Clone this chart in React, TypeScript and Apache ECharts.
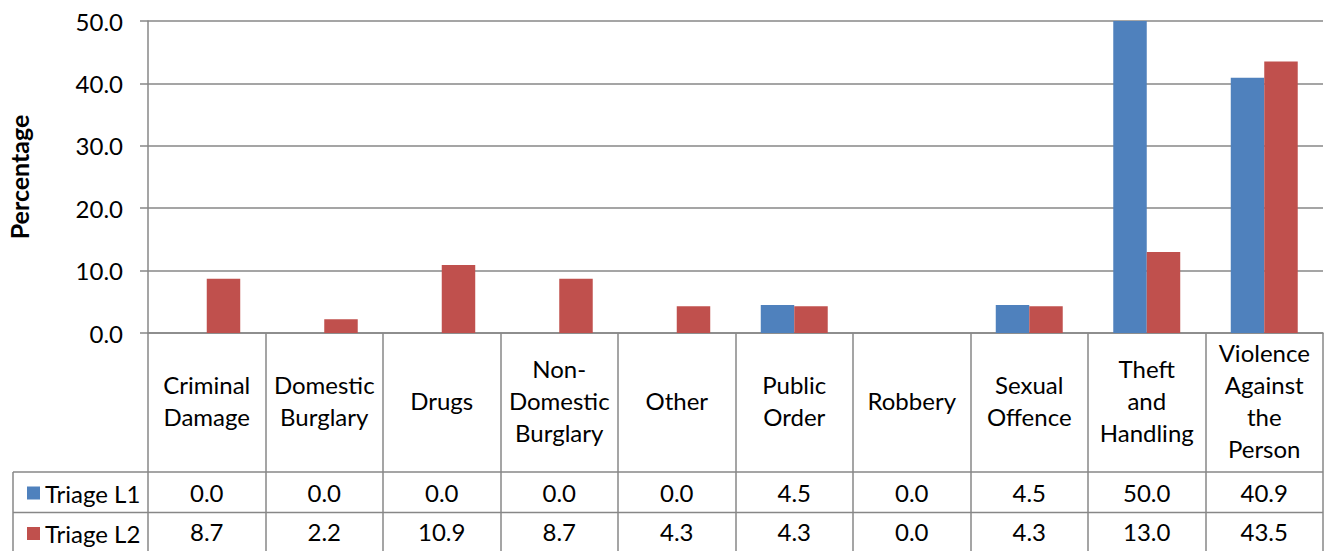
import React, { useEffect, useRef } from "react";
import * as echarts from "echarts";

const categoryLabels = [
  "Criminal\nDamage",
  "Domestic\nBurglary",
  "Drugs",
  "Non-\nDomestic\nBurglary",
  "Other",
  "Public\nOrder",
  "Robbery",
  "Sexual\nOffence",
  "Theft\nand\nHandling",
  "Violence\nAgainst\nthe\nPerson",
];
const seriesNames = ["Triage L1", "Triage L2"];
const triageL1 = [0.0, 0.0, 0.0, 0.0, 0.0, 4.5, 0.0, 4.5, 50.0, 40.9];
const triageL2 = [8.7, 2.2, 10.9, 8.7, 4.3, 4.3, 0.0, 4.3, 13.0, 43.5];
const yMin = 0;
const yMax = 50;
const yStep = 10;

const FONT = "Lato";
const FS = 24;
const TEXT = "#000000";
const LINE = "#878787";
const BLUE = "#4F81BD";
const RED = "#C0504D";

const W = 1326;
const H = 551;
const PLOT_LEFT = 148;
const PLOT_RIGHT = 1323;
const PLOT_TOP = 21;
const PLOT_BOTTOM = 333;
const ROW1_TOP = 472;
const ROW2_TOP = 512.5;
const TABLE_LEFT = 13;

export default function App() {
  const ref = useRef<HTMLDivElement>(null);
  useEffect(() => {
    if (!ref.current) return;
    const chart = echarts.init(ref.current, undefined, { renderer: "svg" });
    const valueAxis = (vals: number[], margin: number) => ({
      type: "category",
      data: categoryLabels,
      gridIndex: 0,
      position: "bottom",
      axisLine: { show: false },
      axisTick: { show: false },
      splitLine: { show: false },
      axisLabel: {
        interval: 0,
        margin,
        verticalAlign: "middle",
        fontFamily: FONT,
        fontSize: FS,
        color: TEXT,
        formatter: (_v: string, i: number) => vals[i].toFixed(1),
      },
    });
    const legendBase = {
      left: 22,
      selectedMode: false,
      icon: "rect",
      itemWidth: 13,
      itemHeight: 13,
      itemGap: 6,
      textStyle: { fontFamily: FONT, fontSize: FS, color: TEXT, lineHeight: 24, padding: [0, 0, 0, 0] },
    };
    chart.setOption({
      animation: false,
      backgroundColor: "#ffffff",
      textStyle: { fontFamily: FONT },
      grid: {
        left: PLOT_LEFT,
        right: W - PLOT_RIGHT,
        top: PLOT_TOP,
        bottom: H - PLOT_BOTTOM,
        containLabel: false,
        outerBoundsMode: "none",
      },
      legend: [
        { ...legendBase, data: [seriesNames[0]], top: ROW1_TOP + 4 },
        { ...legendBase, data: [seriesNames[1]], top: ROW2_TOP + 4 },
      ],
      xAxis: [
        {
          type: "category",
          data: categoryLabels,
          axisLine: { show: true, lineStyle: { color: LINE, width: 1.5 } },
          axisTick: {
            show: true,
            interval: 0,
            alignWithLabel: false,
            length: H - PLOT_BOTTOM + 5,
            lineStyle: { color: LINE, width: 1.5 },
          },
          splitLine: { show: false },
          axisLabel: {
            interval: 0,
            margin: 67,
            verticalAlign: "middle",
            align: "center",
            fontFamily: FONT,
            fontSize: FS,
            lineHeight: 32,
            color: TEXT,
          },
        },
        valueAxis(triageL1, ROW1_TOP + 20 - PLOT_BOTTOM),
        valueAxis(triageL2, ROW2_TOP + 19 - PLOT_BOTTOM),
      ],
      yAxis: {
        type: "value",
        min: yMin,
        max: yMax,
        interval: yStep,
        name: "Percentage",
        nameLocation: "middle",
        nameGap: 117,
        nameTextStyle: { fontFamily: FONT, fontSize: 25, fontWeight: "bold", color: TEXT },
        axisLine: { show: true, lineStyle: { color: LINE, width: 1.5 } },
        axisTick: { show: true, length: 8, lineStyle: { color: LINE, width: 1.5 } },
        splitLine: { show: true, lineStyle: { color: LINE, width: 1.5 } },
        axisLabel: {
          margin: 25,
          fontFamily: FONT,
          fontSize: FS,
          color: TEXT,
          formatter: (v: number) => v.toFixed(1),
        },
      },
      series: [
        {
          name: seriesNames[0],
          type: "bar",
          data: triageL1,
          itemStyle: { color: BLUE },
          barGap: "0%",
          barCategoryGap: "43%",
        },
        {
          name: seriesNames[1],
          type: "bar",
          data: triageL2,
          itemStyle: { color: RED },
          barGap: "0%",
          barCategoryGap: "43%",
        },
      ],
      graphic: [
        {
          type: "line",
          shape: { x1: TABLE_LEFT, y1: ROW1_TOP, x2: PLOT_RIGHT, y2: ROW1_TOP },
          style: { stroke: LINE, lineWidth: 1.5 },
        },
        {
          type: "line",
          shape: { x1: TABLE_LEFT, y1: ROW2_TOP, x2: PLOT_RIGHT, y2: ROW2_TOP },
          style: { stroke: LINE, lineWidth: 1.5 },
        },
        {
          type: "line",
          shape: { x1: TABLE_LEFT, y1: ROW1_TOP, x2: TABLE_LEFT, y2: H + 5 },
          style: { stroke: LINE, lineWidth: 1.5 },
        },
      ],
    });
    return () => chart.dispose();
  }, []);
  return (
    <div
      ref={ref}
      style={{ position: "fixed", left: 0, top: 0, width: W, height: H, background: "#fff" }}
    />
  );
}
